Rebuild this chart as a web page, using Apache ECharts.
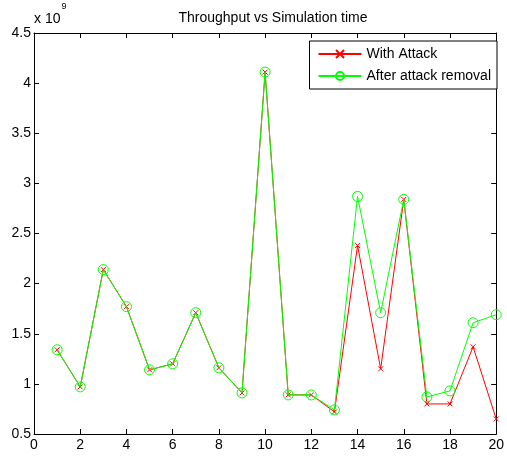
<!DOCTYPE html>
<html>
<head>
<meta charset="utf-8">
<script src="https://cdn.jsdelivr.net/npm/echarts@6/dist/echarts.min.js"></script>
<style>
  html, body { margin: 0; padding: 0; background: #fff; }
  #chart { width: 507px; height: 456px; }
</style>
</head>
<body>
<div id="chart"></div>
<script>
// simulation time steps
const simTime = [1, 2, 3, 4, 5, 6, 7, 8, 9, 10, 11, 12, 13, 14, 15, 16, 17, 18, 19, 20];
// throughput, in units of 1e9
const withAttack = [1.34, 0.97, 2.14, 1.77, 1.14, 1.2, 1.71, 1.16, 0.91, 4.11,
  0.89, 0.89, 0.72, 2.38, 1.15, 2.84, 0.8, 0.8, 1.37, 0.65];
const afterRemoval = [1.34, 0.97, 2.14, 1.77, 1.14, 1.2, 1.71, 1.16, 0.91, 4.11,
  0.89, 0.89, 0.74, 2.87, 1.71, 2.84, 0.87, 0.93, 1.61, 1.69];
const seriesNames = ['With Attack', 'After attack removal'];

const font = 'Liberation Sans, Arial, sans-serif';
const crossSymbol = 'path://M0,0L10,10M10,0L0,10';

const myChart = echarts.init(document.getElementById('chart'));

// MATLAB style box axis, ticks pointing into the plot
function boxAxis(extra) {
  return Object.assign({
    axisLine: { show: true, onZero: false, lineStyle: { color: '#000', width: 1 } },
    axisTick: { show: true, inside: true, length: 5, lineStyle: { color: '#000', width: 1 } },
    splitLine: { show: false }
  }, extra);
}

myChart.setOption({
  animation: false,
  title: {
    text: 'Throughput vs Simulation time',
    left: 268,
    textAlign: 'center',
    top: 6,
    textStyle: { fontFamily: font, fontSize: 14, fontWeight: 'normal', color: '#000' }
  },
  legend: {
    data: seriesNames,
    orient: 'vertical',
    right: 10,
    top: 41,
    itemWidth: 43,
    itemHeight: 10,
    itemGap: 8,
    padding: [6, 6, 6, 8],
    borderColor: '#000',
    borderWidth: 1,
    borderRadius: 0,
    backgroundColor: '#fff',
    textStyle: { fontFamily: font, fontSize: 14, color: '#000' }
  },
  grid: { left: 34, right: 6, top: 33, bottom: 22 },
  xAxis: [
    boxAxis({
      type: 'value', min: 0, max: 20, interval: 2, position: 'bottom',
      axisLabel: { color: '#000', fontFamily: font, fontSize: 14, margin: 4 }
    }),
    boxAxis({
      type: 'value', min: 0, max: 20, interval: 2, position: 'top',
      axisLabel: { show: false }
    })
  ],
  yAxis: [
    boxAxis({
      type: 'value', min: 0.5, max: 4.5, interval: 0.5, position: 'left',
      axisLabel: { color: '#000', fontFamily: font, fontSize: 14, margin: 3 }
    }),
    boxAxis({
      type: 'value', min: 0.5, max: 4.5, interval: 0.5, position: 'right',
      axisLabel: { show: false }
    })
  ],
  graphic: [{
    type: 'text',
    left: 34,
    top: 2,
    style: {
      text: '{b|x 10}{s|9}',
      rich: {
        b: { fontFamily: font, fontSize: 14, fill: '#000', padding: [10, 1, 0, 0] },
        s: { fontFamily: font, fontSize: 9, fill: '#000', verticalAlign: 'top' }
      }
    }
  }],
  series: [
    {
      name: seriesNames[0],
      type: 'line',
      data: simTime.map((t, i) => [t, withAttack[i]]),
      symbol: crossSymbol,
      symbolSize: 5,
      showAllSymbol: true,
      lineStyle: { color: '#ff0000', width: 1 },
      itemStyle: { color: 'none', borderColor: '#ff0000', borderWidth: 1 },
      z: 2
    },
    {
      name: seriesNames[1],
      type: 'line',
      data: simTime.map((t, i) => [t, afterRemoval[i]]),
      symbol: 'circle',
      symbolSize: 10,
      showAllSymbol: true,
      lineStyle: { color: '#00ff00', width: 1 },
      itemStyle: { color: 'none', borderColor: '#00ff00', borderWidth: 1 },
      z: 3
    }
  ]
});

window.addEventListener('resize', () => {
  myChart.resize();
});
</script>
</body>
</html>
